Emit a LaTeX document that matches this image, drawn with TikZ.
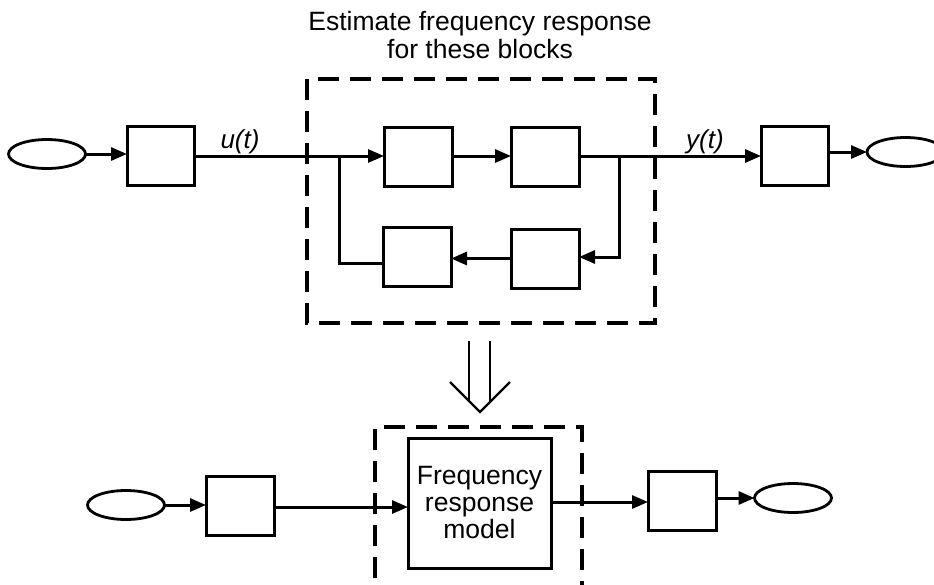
\documentclass[tikz,border=0pt]{standalone}
\usepackage{fontspec}
\setmainfont{Liberation Sans}
\usetikzlibrary{arrows.meta,shapes.geometric}
\begin{document}
\begin{tikzpicture}[x=1pt,y=-1pt,
  blk/.style={draw, line width=3pt, minimum width=68pt, minimum height=59pt, inner sep=0pt, outer sep=0pt},
  src/.style={draw, ellipse, line width=2.8pt, minimum width=77pt, minimum height=29pt, inner sep=0pt, outer sep=0pt},
  arr/.style={line width=3pt, -{Triangle[length=16pt,width=13pt]}},
  wire/.style={line width=3pt},
  dbox/.style={line width=3.4pt, dash pattern=on 21pt off 11pt},
  lbl/.style={font=\fontsize{26}{28}\selectfont\itshape, inner sep=0pt},
  txt/.style={font=\fontsize{26.5}{28}\selectfont, inner sep=0pt, align=center}
]
\clip (0,0) rectangle (934,584);
% title
\node[txt, anchor=base] (t1) at (480,30) {Estimate frequency response};
\node[txt, anchor=base] (t2) at (480,58) {for these blocks};
% top row
\node[src] (e1) at (47,154) {};
\node[blk, minimum width=67pt] (b1) at (160.5,155.5) {};
\node[blk] (bA) at (418,156.5) {};
\node[blk] (bB) at (545,156.5) {};
\node[blk] (bC) at (545,258.5) {};
\node[blk] (bD) at (417,256.5) {};
\node[blk, minimum width=67pt] (bE) at (794.5,155.5) {};
\node[src] (e2) at (905.5,152) {};
\coordinate (jL) at (339,156);
\coordinate (jR) at (619,156);
\node[lbl] (ut) at (240,142) {u(t)};
\node[lbl] (yt) at (705,142) {y(t)};
\draw[arr] (e1.east) -- (e1.east -| b1.west);
\draw[wire] (b1.east |- jL) -- (jL);
\draw[arr] (jL) -- (jL -| bA.west);
\draw[arr] (bA.east |- jL) -- (jL -| bB.west);
\draw[wire] (bB.east |- jR) -- (jR);
\draw[arr] (jR) -- (jR -| bE.west);
\draw[arr] (bE.east |- e2.west) -- (e2.west);
\draw[arr] (jR) |- ([yshift=1.5pt]bC.east);
\draw[arr] (bC.west) -- (bC.west -| bD.east);
\draw[wire] ([yshift=-6.5pt]bD.west) -| (jL);
\draw[dbox] (307,79) rectangle (655,323);
% hollow double arrow
\coordinate (da) at (480,412);
\draw[line width=2.2pt] (469,341) -- (469,401) (490,341) -- (490,401);
\draw[line width=2.2pt] (450,382) -- (da) -- (510,382);
% bottom row
\node[src] (e3) at (126,505) {};
\node[blk] (bF) at (240,506) {};
\node[blk, minimum width=143pt, minimum height=130pt, font=\fontsize{26.5}{27}\selectfont, align=center] (M) at (479.5,503) {Frequency\\response\\model};
\node[blk] (bG) at (682,501) {};
\node[src] (e4) at (793,498) {};
\draw[arr] (e3.east) -- (e3.east -| bF.west);
\draw[arr] ([yshift=-1pt]bF.east) -- ([yshift=-1pt]bF.east -| M.west);
\draw[arr] ([yshift=1pt]M.east) -- ([yshift=1pt]M.east -| bG.west);
\draw[arr] (bG.east |- e4.west) -- (e4.west);
\draw[dbox] (375,610) -- (375,427) -- (582,427) -- (582,610);
\end{tikzpicture}
\end{document}
